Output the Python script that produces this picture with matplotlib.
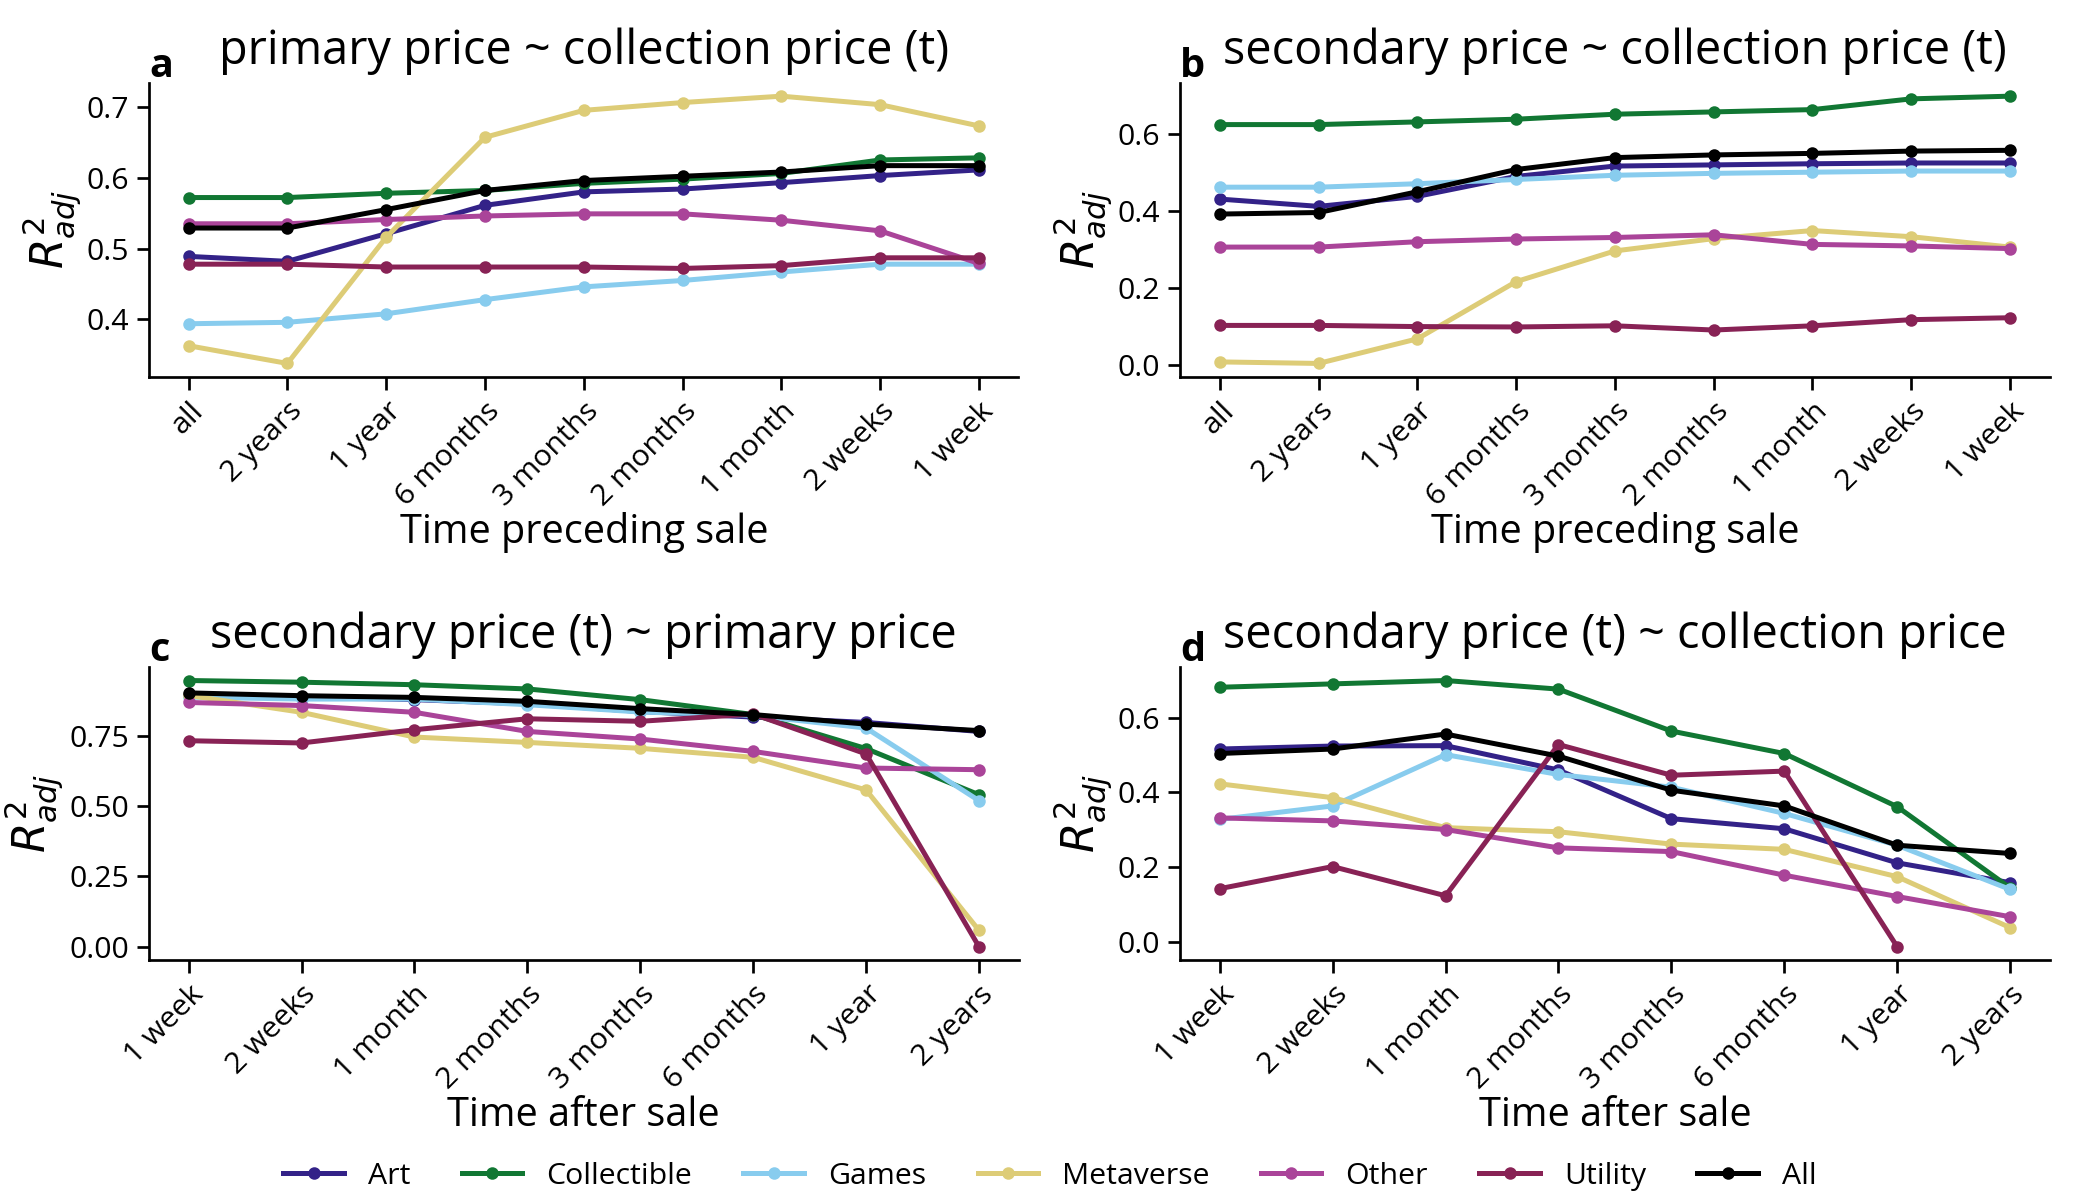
import matplotlib
matplotlib.use("Agg")
import matplotlib.pyplot as plt
from matplotlib.ticker import MultipleLocator

plt.rcParams["font.family"] = ["Open Sans", "DejaVu Sans"]
plt.rcParams["mathtext.fontset"] = "dejavusans"

CATEGORIES = ["Art", "Collectible", "Games", "Metaverse", "Other", "Utility", "All"]
COLORS = ["#332288", "#117733", "#88CCEE", "#DDCC77", "#AA4499", "#882255", "#000000"]

before_labels = ["all", "2 years", "1 year", "6 months", "3 months",
                 "2 months", "1 month", "2 weeks", "1 week"]
after_labels = ["1 week", "2 weeks", "1 month", "2 months", "3 months",
                "6 months", "1 year", "2 years"]

# panel a: primary price ~ collection price (t)
a_art = [0.489, 0.482, 0.521, 0.561, 0.580, 0.584, 0.593, 0.603, 0.611]
a_collectible = [0.572, 0.572, 0.578, 0.582, 0.592, 0.598, 0.606, 0.625, 0.628]
a_games = [0.394, 0.396, 0.408, 0.428, 0.446, 0.455, 0.467, 0.478, 0.478]
a_metaverse = [0.363, 0.338, 0.516, 0.657, 0.695, 0.706, 0.715, 0.703, 0.673]
a_other = [0.535, 0.535, 0.541, 0.546, 0.549, 0.549, 0.540, 0.525, 0.479]
a_utility = [0.478, 0.478, 0.474, 0.474, 0.474, 0.472, 0.476, 0.487, 0.487]
a_all = [0.529, 0.529, 0.555, 0.582, 0.596, 0.602, 0.608, 0.617, 0.617]

# panel b: secondary price ~ collection price (t)
b_art = [0.431, 0.412, 0.438, 0.490, 0.517, 0.520, 0.523, 0.525, 0.525]
b_collectible = [0.625, 0.625, 0.632, 0.639, 0.652, 0.658, 0.664, 0.692, 0.699]
b_games = [0.462, 0.462, 0.471, 0.482, 0.493, 0.498, 0.501, 0.504, 0.504]
b_metaverse = [0.007, 0.003, 0.067, 0.216, 0.296, 0.328, 0.349, 0.333, 0.306]
b_other = [0.306, 0.306, 0.320, 0.327, 0.331, 0.338, 0.313, 0.309, 0.302]
b_utility = [0.102, 0.102, 0.099, 0.098, 0.101, 0.090, 0.101, 0.117, 0.122]
b_all = [0.392, 0.396, 0.450, 0.508, 0.539, 0.546, 0.550, 0.556, 0.558]

# panel c: secondary price (t) ~ primary price
c_art = [0.896, 0.887, 0.878, 0.863, 0.836, 0.816, 0.797, 0.765]
c_collectible = [0.946, 0.940, 0.931, 0.916, 0.878, 0.825, 0.704, 0.540]
c_games = [0.887, 0.880, 0.880, 0.860, 0.834, 0.822, 0.777, 0.519]
c_metaverse = [0.893, 0.833, 0.745, 0.726, 0.705, 0.673, 0.557, 0.058]
c_other = [0.868, 0.857, 0.833, 0.765, 0.738, 0.694, 0.635, 0.629]
c_utility = [0.732, 0.724, 0.771, 0.810, 0.801, 0.827, 0.685, 0.000]
c_all = [0.902, 0.892, 0.886, 0.872, 0.846, 0.825, 0.791, 0.768]

# panel d: secondary price (t) ~ collection price
d_art = [0.516, 0.524, 0.525, 0.460, 0.330, 0.303, 0.212, 0.159]
d_collectible = [0.681, 0.690, 0.699, 0.676, 0.564, 0.504, 0.362, 0.145]
d_games = [0.328, 0.364, 0.501, 0.448, 0.414, 0.344, 0.259, 0.141]
d_metaverse = [0.423, 0.386, 0.306, 0.295, 0.262, 0.248, 0.175, 0.039]
d_other = [0.332, 0.324, 0.301, 0.252, 0.242, 0.179, 0.122, 0.068]
d_utility = [0.143, 0.202, 0.124, 0.528, 0.446, 0.457, -0.012, float("nan")]
d_all = [0.504, 0.516, 0.556, 0.497, 0.406, 0.364, 0.259, 0.237]

panels = [
    ("a", "primary price ~ collection price (t)", before_labels, "Time preceding sale", 0.1,
     [a_art, a_collectible, a_games, a_metaverse, a_other, a_utility, a_all]),
    ("b", "secondary price ~ collection price (t)", before_labels, "Time preceding sale", 0.2,
     [b_art, b_collectible, b_games, b_metaverse, b_other, b_utility, b_all]),
    ("c", "secondary price (t) ~ primary price", after_labels, "Time after sale", 0.25,
     [c_art, c_collectible, c_games, c_metaverse, c_other, c_utility, c_all]),
    ("d", "secondary price (t) ~ collection price", after_labels, "Time after sale", 0.2,
     [d_art, d_collectible, d_games, d_metaverse, d_other, d_utility, d_all]),
]

# axes rectangles in figure fractions
rects = [
    [0.071, 0.686, 0.414, 0.245],
    [0.562, 0.686, 0.414, 0.245],
    [0.071, 0.200, 0.414, 0.244],
    [0.562, 0.200, 0.414, 0.244],
]

fig = plt.figure(figsize=(14, 8), dpi=150)

for rect, (letter, title, xlabels, xlabel, ystep, series) in zip(rects, panels):
    ax = fig.add_axes(rect)
    x = range(len(xlabels))
    for name, color, vals in zip(CATEGORIES, COLORS, series):
        ax.plot(x, vals, color=color, lw=2.4, marker="o", ms=5, label=name)
    ax.set_xticks(list(x))
    ax.set_xticklabels(xlabels, rotation=45, ha="right", rotation_mode="anchor")
    ax.yaxis.set_major_locator(MultipleLocator(ystep))
    ax.set_xlabel(xlabel, fontsize=19, labelpad=0)
    ax.set_ylabel(r"$R^2_{adj}$", fontsize=21, labelpad=2)
    ax.set_title(title, fontsize=22.5, pad=9)
    ax.text(0.0, 1.02, letter, transform=ax.transAxes, fontsize=19,
            fontweight="bold", ha="left", va="baseline")
    ax.tick_params(labelsize=14.5, length=6, width=1.3)
    ax.spines["top"].set_visible(False)
    ax.spines["right"].set_visible(False)
    for s in ("left", "bottom"):
        ax.spines[s].set_linewidth(1.3)
    handles, names = ax.get_legend_handles_labels()

fig.legend(handles, names, loc="lower center", ncol=7, frameon=False,
           fontsize=14.5, columnspacing=1.7, bbox_to_anchor=(0.5, -0.015))

fig.savefig("out.png", dpi=150)
